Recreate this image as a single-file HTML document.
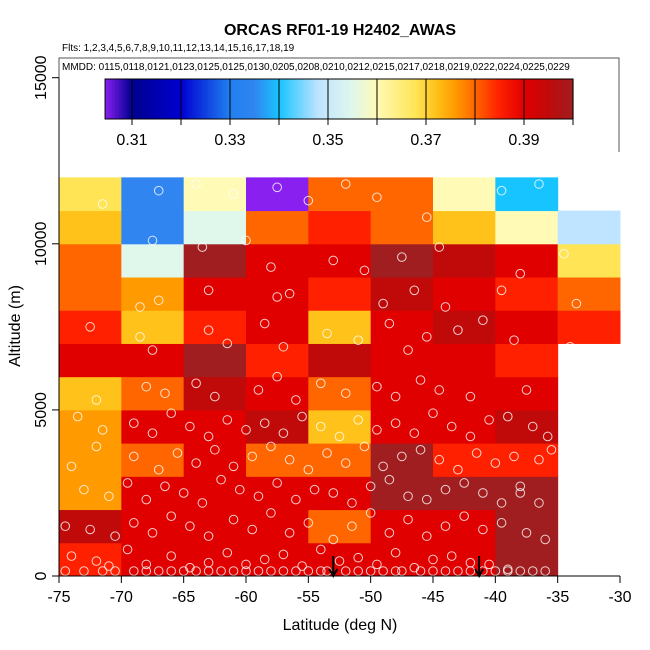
<!DOCTYPE html>
<html><head><meta charset="utf-8"><style>
html,body{margin:0;padding:0;background:#fff;}
svg{display:block;font-family:"Liberation Sans",sans-serif;}
</style></head><body>
<svg id="chart" width="650" height="650" viewBox="0 0 650 650">
<g id="cells"></g>
<g id="pts"></g>
<g id="arrows"></g>
<g id="legend">
<rect x="59" y="58" width="560" height="94" fill="#fff" stroke="none"/>
<path d="M59,152 L59,58 L619,58 L619,152" fill="none" stroke="#555" stroke-width="1"/>
<text x="62" y="70" font-size="10">MMDD: 0115,0118,0121,0123,0125,0125,0130,0205,0208,0210,0212,0215,0217,0218,0219,0222,0224,0225,0229</text>
<g id="cbar"></g>
</g>
<g id="axes"></g>
<text x="340" y="35" font-size="16" font-weight="bold" text-anchor="middle">ORCAS RF01-19 H2402_AWAS</text>
<text x="62" y="51" font-size="10">Flts: 1,2,3,4,5,6,7,8,9,10,11,12,13,14,15,16,17,18,19</text>
<text x="340" y="630" font-size="16" text-anchor="middle">Latitude (deg N)</text>
<text x="0" y="0" font-size="16" text-anchor="middle" transform="translate(20,326) rotate(-90)">Altitude (m)</text>
</svg>
<script>
const latEdges=[-75,-70,-65,-60,-55,-50,-45,-40,-35,-30];
const altBottoms=[0,1000,2000,3000,4000,5000,6000,7000,8000,9000,10000,11000];
// rows from alt 0 upward; columns -75..-30 (null = no data)
const cellValues=[
[0.385,0.39,0.39,0.39,0.39,0.39,0.39,0.40,null],
[0.395,0.39,0.39,0.39,0.38,0.39,0.39,0.40,null],
[0.376,0.39,0.39,0.39,0.39,0.40,0.40,0.40,null],
[0.376,0.38,0.39,0.38,0.38,0.40,0.385,0.385,null],
[0.376,0.39,0.39,0.395,0.372,0.39,0.39,0.395,null],
[0.372,0.38,0.395,0.39,0.38,0.39,0.39,0.39,null],
[0.39,0.39,0.40,0.385,0.395,0.39,0.39,0.385,null],
[0.385,0.372,0.385,0.39,0.372,0.39,0.395,0.39,0.385],
[0.38,0.376,0.39,0.39,0.385,0.395,0.39,0.385,0.38],
[0.38,0.355,0.40,0.39,0.39,0.40,0.395,0.39,0.368],
[0.372,0.335,0.355,0.38,0.385,0.38,0.372,0.36,0.348],
[0.368,0.335,0.36,0.304,0.38,0.38,0.36,0.34,null]
];
const cbTicks=[0.31,0.32,0.33,0.34,0.35,0.36,0.37,0.38,0.39,0.40];
const cbLabels=["0.31","0.33","0.35","0.37","0.39"];
const xTicks=[-75,-70,-65,-60,-55,-50,-45,-40,-35,-30];
const yTicks=[0,5000,10000,15000];
const arrowLats=[-53,-41.3];
const pointLat=[-74.5,-73,-71.5,-70.5,-69,-68,-67,-66,-65,-64,-63,-62,-61,-60,-59,-58,-57,-56,-55,-54,-53.5,-52,-51,-50,-49,-48,-47.5,-46,-45,-44,-43,-42,-41,-40,-39,-38,-37,-36,
-74,-72,-71,-69.5,-68,-66,-64.5,-63,-61.5,-60,-58.5,-57,-55.5,-54,-52.5,-51,-49.5,-48,-46.5,-45,-43.5,-42,-40.5,-39,-37.5,-36,
-74.5,-72.5,-70.5,-69,-67.5,-66,-64.5,-63,-61,-59.5,-58,-56.5,-55,-53,-51.5,-50,-48.5,-47,-45.5,-44,-42.5,-41,-39.5,-38,-36.5,
-73,-71,-69.5,-68,-66.5,-65,-63.5,-62,-60.5,-59,-57.5,-56,-54.5,-53,-51.5,-50,-48.5,-47,-45.5,-44,-42.5,-41,-39.5,-38,-36.5,-35.5,
-74,-72,-69,-67,-65.5,-64,-62.5,-61,-59.5,-58,-56.5,-55,-53.5,-52,-50.5,-49,-47.5,-46,-44.5,-43,-41.5,-40,-38.5,-37,-35.8,
-73.5,-71.5,-69,-67.5,-66,-64.5,-63,-61.5,-60,-58.5,-57,-55.5,-54,-52.5,-51,-49.5,-48,-46.5,-45,-43.5,-42,-40.5,-39,-37.5,-33,
-72,-68,-66.5,-64,-62.5,-59,-57.5,-56,-54,-52,-49.5,-48,-46,-44.5,-42,-38.5,-34,
-72.5,-68.5,-67.5,-63,-61.5,-58.5,-57,-53.5,-51,-48.5,-47,-45.5,-43,-41,-39.5,-33.5,
-68.5,-67,-63,-57.5,-56.5,-49,-46.5,-44,-38,-34.5,
-67.5,-63.5,-60,-58,-53,-50.5,-47.5,-44.5,-39.5,-36.5,
-71.5,-67,-64,-61,-57.5,-55,-52,-49.5,-45.5,-42,-38.5
];
const pointAlt=[150,150,150,150,150,150,150,150,150,150,150,150,150,150,150,150,150,150,150,150,150,150,150,150,150,150,150,150,150,150,150,150,150,150,150,150,150,150,
600,450,300,800,350,600,250,400,700,350,500,650,300,800,450,550,350,700,250,500,600,400,350,200,
1300,1100,1500,1400,1200,1600,1300,1800,1500,1200,1700,1400,1900,1300,1600,1100,1500,1900,1300,1700,1200,1500,1800,1400,1600,
2500,2200,2600,2400,2800,2300,2700,2500,2200,2900,2600,2400,2800,2300,2600,2500,2200,2700,2900,2400,2300,2600,2800,2500,2200,2700,
3500,3800,3300,3900,3600,3200,3700,3400,3800,3300,3600,3900,3500,3200,3700,3400,3900,3300,3600,3800,3500,3200,3700,3400,3600,
4500,4200,4800,4400,4600,4300,4900,4500,4200,4700,4400,4600,4300,4800,4500,4200,4700,4400,4600,4300,4900,4500,4200,4700,4800,
5600,5900,5300,5700,5500,5800,5400,5600,6000,5300,5800,5500,5700,5400,5900,5600,5400,
7100,6900,7500,7200,6800,7400,7000,7600,6900,7300,7100,7600,6800,7200,7400,7700,
8600,8200,8100,8300,8600,8400,8500,8200,8600,8100,
9100,9700,10100,9900,10100,9300,9500,9200,9600,9900,
11600,11800,11200,11600,11800,11500,11700,11300,11800,11400,10800
];
const stops=[[0.3045,'#8a20f0'],[0.31,'#000090'],[0.32,'#0000d0'],[0.33,'#2080f0'],[0.335,'#3085f0'],[0.34,'#18c4ff'],[0.348,'#bee4ff'],[0.355,'#e0f7ec'],[0.36,'#fffab5'],[0.368,'#ffe455'],[0.372,'#ffc21a'],[0.376,'#ff9a00'],[0.38,'#ff6600'],[0.385,'#ff2000'],[0.39,'#e00000'],[0.395,'#c00a0a'],[0.40,'#a01e20']];
const NS='http://www.w3.org/2000/svg';
const X0=59,X1=620,Y0=576,YP=0.03322;
const xs=v=>X0+(v+75)*(X1-X0)/45;
const ys=v=>Y0-v*YP;
const cbx=v=>573-(0.40-v)*4900;
function hx(c){return [parseInt(c.slice(1,3),16),parseInt(c.slice(3,5),16),parseInt(c.slice(5,7),16)];}
function col(v){
 if(v<=stops[0][0])return stops[0][1];
 for(let i=1;i<stops.length;i++){if(v<=stops[i][0]){const a=stops[i-1],b=stops[i];const t=(v-a[0])/(b[0]-a[0]);const A=hx(a[1]),B=hx(b[1]);return 'rgb('+A.map((q,k)=>Math.round(q+(B[k]-q)*t)).join(',')+')';}}
 return stops[stops.length-1][1];
}
function mk(tag,attrs,parent){const e=document.createElementNS(NS,tag);for(const k in attrs)e.setAttribute(k,attrs[k]);parent.appendChild(e);return e;}
const gc=document.getElementById('cells');
cellValues.forEach((row,r)=>row.forEach((v,c)=>{
 if(v===null)return;
 const x=xs(latEdges[c]),x2=xs(latEdges[c+1]),y=ys(altBottoms[r]+1000),y2=ys(altBottoms[r]);
 const e=mk('rect',{x:x,y:y,width:x2-x+0.5,height:y2-y+0.5,fill:col(v)},gc);
 
 
}));
const gp=document.getElementById('pts');
pointLat.forEach((la,i)=>{
 const e=mk('circle',{cx:xs(la),cy:ys(pointAlt[i]),r:4.3,fill:'none',stroke:'rgba(255,255,255,0.8)','stroke-width':1},gp);
 
 
});
const ga=document.getElementById('arrows');
arrowLats.forEach(la=>{
 const x=xs(la);
 const e=mk('path',{d:`M${x},556 L${x},576 M${x-4},569 L${x},576 L${x+4},569`,stroke:'#000','stroke-width':2,fill:'none'},ga);
 
 
});
const gb=document.getElementById('cbar');
const steps=200;
for(let i=0;i<steps;i++){
 const v=0.3045+(0.40-0.3045)*i/steps, v2=0.3045+(0.40-0.3045)*(i+1)/steps;
 const e=mk('rect',{x:cbx(v),y:79,width:cbx(v2)-cbx(v)+0.6,height:40,fill:col((v+v2)/2)},gb);
 
 
}
const bf=mk('rect',{x:cbx(0.3045),y:79,width:cbx(0.40)-cbx(0.3045),height:40,fill:'none',stroke:'#000','stroke-width':1},gb);


cbTicks.forEach(t=>{
 const e=mk('line',{x1:cbx(t),x2:cbx(t),y1:79,y2:125,stroke:'#000','stroke-width':1},gb);
 
 
});
cbLabels.forEach(l=>{
 const e=mk('text',{x:cbx(parseFloat(l)),y:145,'font-size':16,'text-anchor':'middle'},gb);
 e.textContent=l;
 
 
});
const gx=document.getElementById('axes');
mk('line',{x1:xs(-75),x2:xs(-30),y1:Y0,y2:Y0,stroke:'#000'},gx);
mk('line',{x1:X0,x2:X0,y1:ys(0),y2:ys(15000),stroke:'#000'},gx);
xTicks.forEach(t=>{
 mk('line',{x1:xs(t),x2:xs(t),y1:Y0,y2:Y0+7,stroke:'#000'},gx);
 const e=mk('text',{x:xs(t),y:602,'font-size':16,'text-anchor':'middle'},gx);
 e.textContent=t;
 
 
});
yTicks.forEach(t=>{
 mk('line',{x1:X0,x2:X0-7,y1:ys(t),y2:ys(t),stroke:'#000'},gx);
 const e=mk('text',{x:0,y:0,'font-size':16,'text-anchor':'middle',transform:`translate(46,${ys(t)}) rotate(-90)`},gx);
 e.textContent=t;
 
 
});
</script>
</body></html>
